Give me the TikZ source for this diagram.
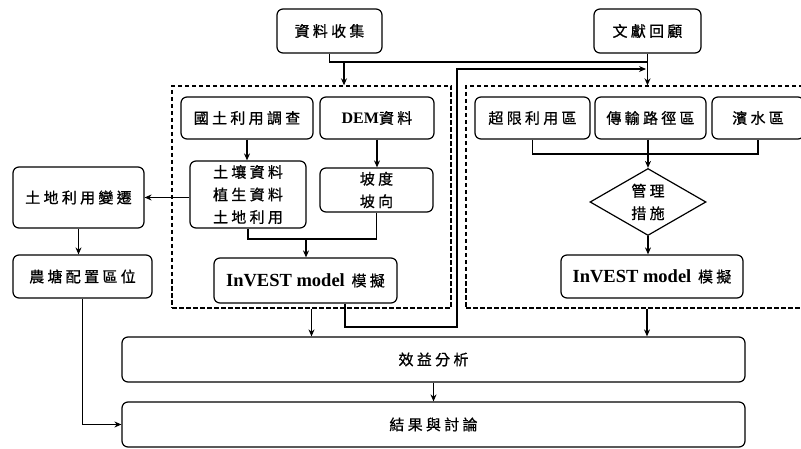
\documentclass[tikz,border=0pt]{standalone}
\usepackage{fontspec}
\setmainfont{Liberation Serif}
\newfontfamily\cjk[LetterSpace=22, FakeBold=0.8]{Noto Sans CJK TC}
\usetikzlibrary{arrows.meta,shapes.geometric}
\begin{document}
\begin{tikzpicture}[x=1pt,y=-1pt, line width=1.2pt,
  bx/.style={draw, rounded corners=6pt, align=center, inner sep=0pt,
    font=\cjk\fontsize{15}{22.5}\selectfont},
  arr/.style={-{Stealth[length=7pt,width=6pt]}, line width=1.1pt},
  dbox/.style={draw, dash pattern=on 4.5pt off 2.5pt, line width=1.3pt, inner sep=0pt}]
\useasboundingbox (0,0) rectangle (801,449);
\clip (0,0) rectangle (801,449);

% dashed frames
\node[dbox, minimum width=279pt, minimum height=222pt] (leftbox) at (311.5,197) {};
\node[dbox, minimum width=362pt, minimum height=222pt] (rightbox) at (647,197) {};

% top
\node[bx, minimum width=105pt, minimum height=44pt] (collect) at (329.5,31) {資料收集};
\node[bx, minimum width=107pt, minimum height=44pt] (review) at (647.5,31) {文獻回顧};

% left frame contents
\node[bx, minimum width=132pt, minimum height=42pt] (land) at (247,118) {國土利用調查};
\node[bx, minimum width=114pt, minimum height=42pt] (dem) at (377,118) {{\rmfamily\bfseries\fontsize{16}{18}\selectfont DEM}資料};
\node[bx, minimum width=116pt, minimum height=67pt] (soil) at (248,194.5) {土壤資料\\植生資料\\土地利用};
\node[bx, minimum width=113pt, minimum height=44pt] (slope) at (376.5,190) {坡度\\坡向};
\node[bx, minimum width=183pt, minimum height=45pt] (invL) at (305.5,280.5) {{\rmfamily\bfseries\fontsize{18.5}{20}\selectfont InVEST model} 模擬};

% left column
\node[bx, minimum width=131pt, minimum height=61pt] (change) at (78.5,197.5) {土地利用變遷};
\node[bx, minimum width=139pt, minimum height=43pt] (pond) at (82.5,276.5) {農塘配置區位};

% right frame contents
\node[bx, minimum width=115pt, minimum height=42pt] (over) at (532.5,118) {超限利用區};
\node[bx, minimum width=111pt, minimum height=42pt] (trans) at (650.5,118) {傳輸路徑區};
\node[bx, minimum width=92pt, minimum height=42pt] (water) at (758,118) {濱水區};
\node[draw, diamond, aspect=1.73, inner sep=0pt, minimum width=116pt, minimum height=67pt,
  align=center, font=\cjk\fontsize{15}{22.5}\selectfont] (dia) at (648,202) {管理\\措施};
\node[bx, minimum width=182pt, minimum height=43pt] (invR) at (652,276.5) {{\rmfamily\bfseries\fontsize{18.5}{20}\selectfont InVEST model} 模擬};

% bottom
\node[bx, minimum width=623pt, minimum height=45pt] (benefit) at (433.5,359.5) {效益分析};
\node[bx, minimum width=623pt, minimum height=45pt] (result) at (433.5,424.5) {結果與討論};

% connectors: top
\coordinate (j1) at (647,62);
\coordinate (a1) at (344,62);
\draw (collect.south) |- (j1);
\draw[arr] (review.south) -- (rightbox.north -| review.south);
\draw[arr] (a1) -- (a1 |- leftbox.north);

% return line
\coordinate (r1) at (345,327);
\coordinate (r2) at (457,69);
\draw[arr, shorten >=1.5pt] (r1 |- invL.south) -- (r1) -| (r2) -- (r2 -| review.south);

% left frame internals
\draw[arr] (land.south) -- (land.south |- soil.north);
\draw[arr] (dem.south) -- (dem.south |- slope.north);
\coordinate (j2) at (306,239);
\draw (soil.south) |- (slope.south |- j2) -- (slope.south);
\draw[arr] (j2) -- (j2 |- invL.north);

% left column
\draw[arr] (soil.west |- change.east) -- (change.east);
\draw[arr] (change.south) -- (change.south |- pond.north);
\draw[arr] (pond.south) |- (result.west);

% right frame internals
\coordinate (j3) at (648,154);
\draw (over.south) |- (water.south |- j3) -- (water.south);
\draw (trans.south -| j3) -- (j3);
\draw[arr] (j3) -- (dia.north);
\draw[arr] (dia.south) -- (dia.south |- invR.north);

% to bottom
\draw[arr] (leftbox.south) -- (leftbox.south |- benefit.north);
\draw[arr] (rightbox.south) -- (rightbox.south |- benefit.north);
\draw[arr] (benefit.south) -- (result.north);
\end{tikzpicture}
\end{document}
